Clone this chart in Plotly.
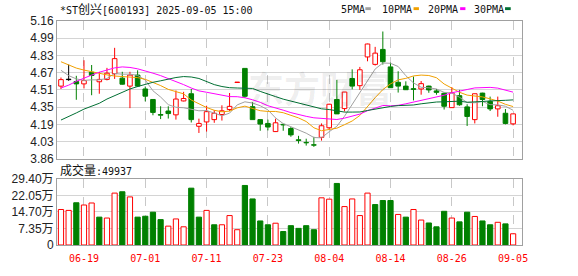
import plotly.graph_objects as go

# ---------------- data ----------------
dates = ["06-16","06-17","06-18","06-19","06-20","06-23","06-24","06-25","06-26","06-27","06-30",
         "07-01","07-02","07-03","07-04","07-07","07-08","07-09","07-10","07-11","07-14","07-15",
         "07-16","07-17","07-18","07-21","07-22","07-23","07-24","07-25","07-28","07-29","07-30",
         "07-31","08-01","08-04","08-05","08-06","08-07","08-08","08-11","08-12","08-13","08-14",
         "08-15","08-18","08-19","08-20","08-21","08-22","08-25","08-26","08-27","08-28","08-29",
         "09-01","09-02","09-03","09-04","09-05"]
tick_dates = ["06-19","07-01","07-11","07-23","08-04","08-14","08-26","09-05"]

opens = [4.546,4.607,4.589,4.567,4.677,4.587,4.609,4.663,4.621,4.546,4.650,4.519,4.420,4.278,4.311,
         4.275,4.406,4.474,4.167,4.208,4.230,4.278,4.325,4.580,4.713,4.352,4.230,4.194,4.117,4.185,
         4.146,4.040,4.015,3.993,4.063,4.153,4.420,4.334,4.618,4.550,4.821,4.751,4.892,4.727,4.582,
         4.546,4.522,4.519,4.546,4.501,4.478,4.343,4.456,4.350,4.230,4.480,4.402,4.331,4.290,4.190]
highs = [4.627,4.749,4.643,4.790,4.745,4.680,4.718,4.907,4.681,4.681,4.695,4.542,4.420,4.356,4.356,
         4.505,4.492,4.519,4.239,4.361,4.320,4.365,4.481,4.580,4.713,4.395,4.230,4.230,4.239,4.190,
         4.160,4.077,4.050,4.068,4.194,4.379,4.605,4.490,4.704,4.727,4.946,4.916,5.061,4.767,4.686,
         4.591,4.636,4.594,4.550,4.519,4.487,4.537,4.510,4.375,4.474,4.483,4.447,4.447,4.330,4.284]
lows = [4.519,4.596,4.417,4.524,4.460,4.474,4.600,4.614,4.560,4.338,4.537,4.402,4.271,4.235,4.240,
        4.230,4.402,4.203,4.104,4.117,4.200,4.221,4.310,4.580,4.435,4.230,4.125,4.128,4.113,4.125,
        4.068,4.004,3.985,3.973,4.032,4.140,4.284,4.307,4.515,4.510,4.780,4.740,4.749,4.528,4.485,
        4.510,4.411,4.465,4.483,4.465,4.325,4.341,4.361,4.170,4.194,4.356,4.311,4.257,4.185,4.176]
closes = [4.607,4.607,4.567,4.598,4.646,4.609,4.668,4.805,4.564,4.650,4.546,4.451,4.298,4.272,4.287,
          4.424,4.429,4.230,4.194,4.305,4.290,4.313,4.355,4.580,4.450,4.230,4.188,4.160,4.200,4.180,
          4.086,4.033,4.011,3.989,4.172,4.375,4.284,4.490,4.546,4.700,4.943,4.857,4.776,4.531,4.546,
          4.512,4.515,4.569,4.510,4.487,4.356,4.483,4.370,4.260,4.474,4.420,4.331,4.361,4.194,4.284]
# volume in 万手
vol_wan = [15.8,15.4,18.8,17.8,18.7,12.4,12.0,23.1,23.7,21.4,12.4,12.8,14.6,11.3,8.4,
           11.6,8.1,25.3,12.4,15.4,9.0,9.0,13.1,6.8,26.5,20.5,10.7,9.0,9.7,6.0,
           8.6,7.4,8.6,6.8,21.0,20.4,27.4,17.1,20.5,13.1,23.1,18.0,19.8,19.8,13.6,
           12.4,15.8,11.1,9.8,8.1,15.0,12.0,10.3,14.6,12.7,10.7,9.0,10.1,9.4,4.9937]
ma5 = [4.695,4.645,4.614,4.600,4.605,4.605,4.618,4.665,4.658,4.659,4.647,4.603,4.502,4.443,4.371,
       4.346,4.342,4.328,4.313,4.316,4.290,4.266,4.291,4.369,4.398,4.386,4.361,4.322,4.246,4.192,
       4.163,4.132,4.102,4.061,4.058,4.116,4.167,4.262,4.373,4.479,4.593,4.707,4.764,4.761,4.731,
       4.644,4.576,4.535,4.530,4.519,4.487,4.481,4.441,4.391,4.389,4.401,4.371,4.369,4.356,4.318]
ma10 = [4.776,4.745,4.716,4.697,4.680,4.665,4.652,4.641,4.636,4.632,4.626,4.610,4.584,4.551,4.515,
        4.497,4.473,4.415,4.378,4.344,4.318,4.304,4.310,4.341,4.357,4.338,4.314,4.307,4.307,4.295,
        4.274,4.246,4.212,4.153,4.125,4.139,4.149,4.182,4.217,4.269,4.354,4.437,4.513,4.567,4.605,
        4.619,4.642,4.650,4.646,4.625,4.566,4.529,4.488,4.461,4.454,4.444,4.426,4.405,4.374,4.353]
ma20 = [4.528,4.555,4.591,4.623,4.650,4.677,4.700,4.718,4.727,4.722,4.709,4.691,4.668,4.645,4.618,
        4.587,4.560,4.528,4.501,4.488,4.472,4.457,4.447,4.446,4.436,4.417,4.393,4.361,4.343,4.319,
        4.296,4.275,4.261,4.247,4.241,4.239,4.231,4.244,4.262,4.282,4.314,4.341,4.363,4.360,4.365,
        4.379,4.395,4.416,4.431,4.447,4.460,4.483,4.501,4.514,4.529,4.531,4.534,4.527,4.510,4.489]
ma30 = [4.226,4.257,4.293,4.329,4.357,4.384,4.424,4.456,4.483,4.519,4.542,4.564,4.582,4.596,4.614,
        4.627,4.636,4.632,4.618,4.587,4.560,4.542,4.531,4.528,4.525,4.524,4.496,4.469,4.447,4.423,
        4.406,4.387,4.368,4.348,4.332,4.325,4.312,4.301,4.301,4.302,4.316,4.329,4.345,4.354,4.362,
        4.365,4.368,4.379,4.390,4.396,4.398,4.404,4.404,4.394,4.394,4.401,4.406,4.412,4.412,4.416]

price_ticks = [3.86, 4.0225, 4.185, 4.3475, 4.51, 4.6725, 4.835, 4.9975, 5.16]
price_ticktext = ["3.86","4.03","4.19","4.35","4.51","4.67","4.83","4.99","5.16"]
vol_ticks = [0, 7.35, 14.70, 22.05, 29.40]
vol_ticktext = ["0","7.35万","14.70万","22.05万","29.40万"]
title_text = "*ST创兴[600193] 2025-09-05 15:00"
vol_label = "成交量:49937"

# ---------------- styles ----------------
RED = "#ff0000"
GREEN = "#008000"
BLACK = "#000000"
MA_COLORS = ["#a0a0a0", "#f0a000", "#ff00ff", "#006f33"]
FRAME = "#a0a0a0"
GRID = "#d4d4d4"
W, H = 578, 276
L, R, T, B = 56, 56, 21, 21
PH = H - T - B
PW = W - L - R

def px2paper_x(px):
    return (px - L) / PW

def px2paper_y(py):
    return (H - B - py) / PH

n = len(closes)
xs = list(range(n))

def candle_dir(i):
    o, c = opens[i], closes[i]
    if c > o:
        return "up"
    if c < o:
        return "down"
    p = closes[i - 1] if i > 0 else o
    if c > p:
        return "up"
    if c < p:
        return "down"
    return "flat"

def vol_dir(i):
    if i == 0:
        return "up" if closes[0] >= opens[0] else "down"
    return "up" if closes[i] >= closes[i - 1] else "down"

line_col = {"up": RED, "down": GREEN, "flat": BLACK}
fill_col = {"up": "white", "down": GREEN, "flat": BLACK}

cdirs = [candle_dir(i) for i in xs]
vdirs = [vol_dir(i) for i in xs]

fig = go.Figure()

# wicks
for d in ["up", "down", "flat"]:
    wx, wy = [], []
    for i in xs:
        if cdirs[i] != d:
            continue
        top = max(opens[i], closes[i])
        bot = min(opens[i], closes[i])
        if highs[i] > top:
            wx += [i, i, None]
            wy += [top, highs[i], None]
        if lows[i] < bot:
            wx += [i, i, None]
            wy += [lows[i], bot, None]
    fig.add_trace(go.Scatter(x=wx, y=wy, mode="lines", line=dict(color=line_col[d], width=1),
                             hoverinfo="skip", xaxis="x", yaxis="y"))

# bodies
eps = 0.004
fig.add_trace(go.Bar(
    x=xs,
    base=[min(o, c) for o, c in zip(opens, closes)],
    y=[max(abs(c - o), eps) for o, c in zip(opens, closes)],
    width=0.6,
    marker=dict(color=[fill_col[d] for d in cdirs],
                line=dict(color=[line_col[d] for d in cdirs], width=1)),
    hoverinfo="skip", xaxis="x", yaxis="y"))

# moving averages
for ma, col in zip([ma5, ma10, ma20, ma30], MA_COLORS):
    fig.add_trace(go.Scatter(x=xs, y=ma, mode="lines", line=dict(color=col, width=1),
                             hoverinfo="skip", xaxis="x", yaxis="y"))

# volume
fig.add_trace(go.Bar(
    x=xs, y=vol_wan, width=0.68,
    marker=dict(color=[fill_col[d] for d in vdirs],
                line=dict(color=[line_col[d] for d in vdirs], width=1)),
    hoverinfo="skip", xaxis="x2", yaxis="y2"))

tickvals = [dates.index(d) for d in tick_dates]
xrange = [-0.52, 60.16]

axis_common = dict(showline=True, mirror=True, linecolor=FRAME, linewidth=1,
                   zeroline=False, ticks="", fixedrange=True)
yfont = dict(family="Liberation Sans, Arial, Noto Sans CJK SC", size=12, color="#222222")

fig.update_layout(
    width=W, height=H,
    margin=dict(l=L, r=R, t=T, b=B),
    paper_bgcolor="white", plot_bgcolor="white",
    showlegend=False, barmode="overlay",
    xaxis=dict(domain=[0, 1], anchor="y", range=xrange, tickvals=tickvals,
               showticklabels=False, showgrid=True, gridcolor="#c8c8c8", griddash="dash",
               gridwidth=1, **axis_common),
    yaxis=dict(domain=[(H - B - 165) / PH, 1], anchor="x",
               range=[3.86 - 1e-6, 5.16 + 1e-6],
               tickvals=price_ticks, ticktext=price_ticktext, tickfont=yfont,
               showgrid=True, gridcolor=GRID, gridwidth=1, **axis_common),
    xaxis2=dict(domain=[0, 1], anchor="y2", range=xrange, tickvals=tickvals, ticktext=tick_dates,
                tickfont=dict(family="DejaVu Sans Mono, monospace", size=10, color=RED),
                ticklabelstandoff=4,
                showgrid=True, gridcolor="#c8c8c8", griddash="dash", gridwidth=1, **axis_common),
    yaxis2=dict(domain=[0, (H - B - 186) / PH], anchor="x2", range=[0, 29.40 + 1e-6],
                tickvals=vol_ticks, ticktext=vol_ticktext, tickfont=yfont,
                showgrid=True, gridcolor=GRID, gridwidth=1, **axis_common),
)

mono = "DejaVu Sans Mono, Noto Sans CJK SC, monospace"
ann = []
ann.append(dict(text=title_text.replace("创兴", '<span style="font-size:12px">创兴</span>'),
                x=px2paper_x(57), y=px2paper_y(9.5), xref="paper", yref="paper",
                xanchor="left", yanchor="middle", showarrow=False,
                font=dict(family=mono, size=10, color="#111111")))
ann.append(dict(text=vol_label.replace("成交量", '<span style="font-size:12px">成交量</span>'),
                x=px2paper_x(57.5), y=px2paper_y(177.5), xref="paper", yref="paper",
                xanchor="left", yanchor="middle", showarrow=False,
                font=dict(family=mono, size=10, color="#111111")))
# watermark
ann.append(dict(text="<b>东方财富</b>", x=px2paper_x(320), y=px2paper_y(90),
                xref="paper", yref="paper", xanchor="center", yanchor="middle", showarrow=False,
                font=dict(family="Noto Sans CJK SC", size=36, color="rgba(0,0,0,0.07)")))

legend_names = ["5PMA", "10PMA", "20PMA", "30PMA"]
legend_text_x = [339, 380, 426, 472]
legend_sw_x = [(365, 370.5), (413.3, 418.7), (460, 465.3), (505, 510.7)]
shapes = []
for name, tx, (sx0, sx1), col in zip(legend_names, legend_text_x, legend_sw_x, MA_COLORS):
    ann.append(dict(text=name, x=px2paper_x(tx), y=px2paper_y(9.5), xref="paper", yref="paper",
                    xanchor="left", yanchor="middle", showarrow=False,
                    font=dict(family=mono, size=10, color="#111111")))
    shapes.append(dict(type="rect", xref="paper", yref="paper",
                       x0=px2paper_x(sx0), x1=px2paper_x(sx1),
                       y0=px2paper_y(9.6), y1=px2paper_y(6.6),
                       fillcolor=col, line=dict(width=0)))

fig.update_layout(annotations=ann, shapes=shapes)

fig.write_html("out.html", config={"displayModeBar": False, "staticPlot": True})
